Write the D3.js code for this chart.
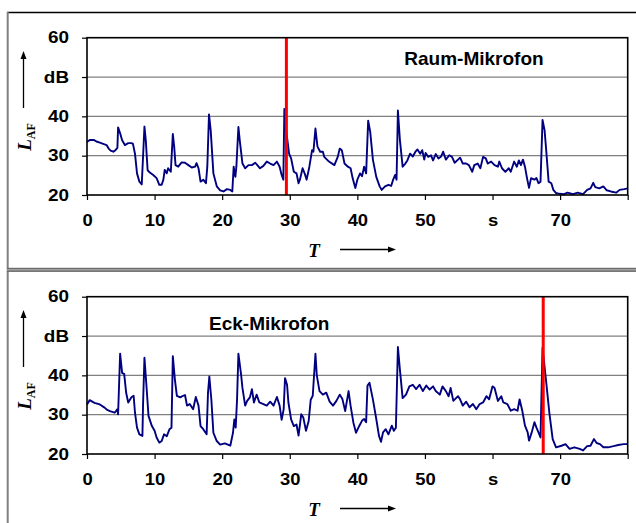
<!DOCTYPE html>
<html>
<head>
<meta charset="utf-8">
<script src="https://cdn.jsdelivr.net/npm/d3@7"></script>
<style>
  html, body { margin: 0; padding: 0; background: #fff; }
  svg { display: block; }
  .tick-label { font-family: "Liberation Sans", Arial, sans-serif; font-weight: bold; font-size: 16px; fill: #000; }
  .title { font-family: "Liberation Sans", Arial, sans-serif; font-weight: bold; font-size: 19px; fill: #000; }
  .qty { font-family: "Liberation Serif", "Times New Roman", serif; font-weight: bold; fill: #000; }
</style>
</head>
<body>
<svg id="chart" width="636" height="523"></svg>
<script>
// Time axis (s) and level axis (dB)
const xTicks = [0, 10, 20, 30, 40, 50, 60, 70, 80];
const xTickLabels = ["0", "10", "20", "30", "40", "50", "s", "70", ""];
const yTicks = [20, 30, 40, 50, 60];
const yTickLabels = ["20", "30", "40", "dB", "60"];

// Raum-Mikrofon: A-weighted, fast level L_AF over time
const raumT = [0,0.4,1.0,1.4,1.9,2.4,2.9,3.2,3.5,3.9,4.2,4.5,4.6,4.9,5.2,5.6,6.1,6.6,6.8,7.1,7.4,7.75,8.1,8.3,8.5,8.7,8.97,9.3,9.8,10.3,10.7,11.05,11.3,11.5,11.8,12.0,12.4,12.7,12.9,13.1,13.5,14.0,14.5,15.0,15.5,16.0,16.2,16.5,16.8,17.2,17.6,17.8,18.05,18.3,18.7,19.2,19.7,20.2,20.7,21.2,21.5,21.7,21.95,22.1,22.4,22.6,23.0,23.4,23.9,24.4,24.9,25.2,25.6,26.1,26.6,27.1,27.6,28.1,28.5,28.8,29.05,29.2,29.5,29.9,30.2,30.6,31.0,31.3,31.5,31.9,32.2,32.5,32.9,33.3,33.5,33.8,34.1,34.5,34.9,35.1,35.8,36.6,37.1,37.4,37.7,38.1,38.6,39.0,39.3,39.7,40.0,40.4,40.7,41.0,41.3,41.6,41.9,42.3,42.8,43.3,43.6,44.1,44.6,45.0,45.3,45.6,45.8,46.0,46.3,46.7,47.1,47.4,47.8,48.2,48.6,48.9,49.3,49.6,49.9,50.1,50.5,50.9,51.2,51.6,52.0,52.4,52.7,53.1,53.6,54.0,54.4,54.9,55.2,55.6,56.1,56.5,57.0,57.3,57.8,58.2,58.6,59.0,59.3,59.8,60.3,60.8,61.0,61.4,61.9,62.4,62.7,63.2,63.6,63.9,64.2,64.5,64.8,65.1,65.4,65.7,66.2,66.5,66.8,67.1,67.4,67.7,67.9,68.3,68.7,69.0,69.4,69.9,70.6,71.1,71.9,72.6,73.4,74.0,74.5,74.9,75.2,75.8,76.4,76.9,77.5,78.3,78.8,79.5,80.0];
const raumL = [33.5,34.0,34.0,33.6,33.3,33.0,32.7,31.8,31.3,31.0,31.4,32.0,37.2,35.7,33.9,32.7,33.2,33.2,33.0,30.5,25.5,23.4,22.7,30.0,37.4,33.9,26.3,25.7,25.1,24.3,22.6,22.6,23.9,26.4,25.5,26.8,25.9,35.5,32.3,27.6,27.2,28.3,28.2,27.6,27.0,27.2,28.1,26.8,23.4,23.9,23.0,27.2,40.5,36.5,25.5,22.2,21.2,20.9,21.5,21.3,20.9,27.2,24.6,27.2,37.3,33.9,28.0,26.8,27.6,27.6,28.2,27.6,26.8,27.4,28.5,28.0,27.6,28.5,27.2,25.1,23.9,41.9,36.0,30.5,29.3,25.9,25.5,23.0,23.9,26.8,25.5,23.9,27.2,31.4,31.0,36.9,32.3,31.0,31.0,29.7,28.5,27.6,29.7,31.8,31.4,28.0,27.2,26.8,24.3,21.8,23.9,25.5,24.8,27.2,25.5,38.9,36.1,29.0,24.6,22.2,21.3,22.2,22.6,22.3,23.9,25.1,23.9,41.5,33.9,27.2,28.0,28.8,30.5,29.8,31.0,31.6,30.5,31.4,29.0,30.7,29.7,30.1,28.8,30.4,29.3,29.8,31.0,29.0,30.1,29.7,28.2,29.0,29.5,28.0,28.0,27.6,25.9,27.6,28.0,26.8,29.7,29.3,28.0,28.5,27.6,27.2,28.5,26.8,25.9,26.8,25.9,28.5,27.2,28.8,27.6,29.0,27.2,24.3,21.8,24.3,23.9,24.3,23.0,23.4,39.1,36.5,32.3,23.4,23.0,21.3,20.5,20.3,20.2,20.6,20.2,20.6,20.2,21.3,21.7,23.1,22.0,21.7,22.2,21.2,20.9,20.6,21.3,21.5,21.7];

// Eck-Mikrofon: A-weighted, fast level L_AF over time
const eckT = [0,0.4,1.1,1.9,2.6,3.0,3.4,4.1,4.5,4.6,4.9,5.2,5.5,5.8,6.1,6.6,6.9,7.1,7.4,7.75,8.2,8.3,8.5,8.8,9.1,9.6,10.0,10.3,10.7,11.05,11.4,11.8,12.2,12.5,12.7,13.0,13.3,13.8,14.2,14.5,14.8,15.2,15.7,16.1,16.5,16.8,17.2,17.7,17.9,18.1,18.4,18.7,19.2,19.7,20.4,21.2,21.6,21.8,22.0,22.2,22.4,22.8,23.0,23.4,23.7,24.1,24.4,24.7,25.1,25.5,26.1,26.6,27.1,27.6,28.1,28.5,28.8,29.1,29.3,29.6,29.8,30.2,30.6,31.0,31.3,31.7,32.0,32.4,32.8,33.1,33.4,33.8,34.0,34.4,34.9,35.4,35.9,36.4,36.9,37.4,37.8,38.2,38.7,39.0,39.4,39.8,40.3,40.7,41.0,41.3,41.5,41.8,42.3,42.8,43.2,43.5,43.8,44.2,44.6,45.1,45.4,45.7,46.0,46.3,46.7,47.2,47.7,48.2,48.7,49.2,49.7,50.2,50.7,51.2,51.6,52.2,52.6,53.1,53.5,53.8,54.2,54.9,55.2,55.6,56.1,56.6,57.1,57.6,58.1,58.6,59.1,59.5,60.0,60.3,60.8,61.3,61.6,62.2,62.7,63.2,63.7,64.0,64.4,64.8,65.2,65.4,65.8,66.2,66.5,66.8,67.1,67.4,67.9,68.4,68.9,69.4,70.2,70.8,71.4,72.1,72.9,73.4,74.0,74.5,75.0,75.4,75.9,76.4,77.1,77.9,78.6,79.4,80.0];
const eckL = [32.6,33.7,33.0,32.6,31.8,31.2,30.9,30.5,31.4,30.1,45.5,40.6,40.4,35.5,33.1,34.5,34.8,30.5,26.7,25.0,24.6,33.0,44.5,37.3,29.7,27.1,25.9,24.2,22.9,23.3,25.0,24.5,26.3,26.7,44.9,39.0,34.8,34.4,34.8,35.0,32.3,32.7,31.4,34.5,32.3,27.1,26.3,25.0,35.5,39.7,33.8,25.4,23.3,22.4,22.7,22.1,25.4,28.8,26.7,33.8,45.5,40.2,36.8,32.3,33.5,34.4,36.5,33.1,35.1,33.1,32.7,32.3,33.3,32.3,34.5,32.3,28.7,31.4,39.3,37.6,33.1,28.8,27.1,27.5,24.7,30.1,29.3,25.9,28.4,33.8,34.8,45.5,40.0,36.0,35.1,35.6,33.3,32.3,33.5,35.1,33.9,30.9,36.0,32.3,28.1,25.4,27.2,28.5,28.9,28.1,37.4,38.1,33.9,28.9,24.6,23.1,25.5,26.3,25.0,27.2,25.9,26.7,47.2,41.4,34.2,35.1,37.2,37.6,36.5,37.6,36.0,37.4,36.4,37.2,36.0,35.1,37.2,36.0,34.7,36.8,33.5,34.7,33.9,32.3,33.3,31.9,32.7,31.4,32.7,33.1,34.7,33.9,37.2,36.8,33.5,34.7,33.1,32.7,31.0,31.4,31.0,33.9,31.0,27.2,25.5,23.4,25.5,28.1,26.7,25.5,24.2,47.0,39.0,30.6,23.8,21.7,22.1,22.5,21.3,21.7,21.3,20.9,22.0,22.1,23.8,22.8,22.5,21.7,21.7,22.0,22.3,22.5,22.5];

// Time markers (s)
const raumMarker = 29.5;
const eckMarker = 67.5;

const svg = d3.select("#chart");

// Page frame
svg.append("line").attr("x1", 7).attr("x2", 636).attr("y1", 12.5).attr("y2", 12.5)
  .attr("stroke", "#000").attr("stroke-width", 1.5);
svg.append("line").attr("x1", 7.7).attr("x2", 7.7).attr("y1", 12).attr("y2", 523)
  .attr("stroke", "#808080").attr("stroke-width", 2);
svg.append("rect").attr("x", 7).attr("y", 268).attr("width", 629).attr("height", 3.5).attr("fill", "#a0a0a0");
svg.append("line").attr("x1", 7).attr("x2", 636).attr("y1", 268.3).attr("y2", 268.3)
  .attr("stroke", "#606060").attr("stroke-width", 1);
svg.append("line").attr("x1", 7).attr("x2", 636).attr("y1", 271.2).attr("y2", 271.2)
  .attr("stroke", "#505050").attr("stroke-width", 1);

const plotLeft = 87, plotRight = 627.7, plotTop = 37.7, plotBottom = 195;

const x = d3.scaleLinear().domain([0, 80]).range([plotLeft, plotRight]);
const y = d3.scaleLinear().domain([20, 60]).range([plotBottom, plotTop]);

// widen bold sans labels slightly, as in the printed figure
function widen(sel, k) {
  sel.each(function () {
    const w = this.getComputedTextLength();
    if (w > 0) {
      d3.select(this).attr("textLength", w * k).attr("lengthAdjust", "spacingAndGlyphs");
    }
  });
}

function arrowHead(g, x0, y0, dir) {
  const pts = dir === "up"
    ? [[x0, y0], [x0 - 3, y0 + 8], [x0 + 3, y0 + 8]]
    : [[x0, y0], [x0 - 8, y0 - 3], [x0 - 8, y0 + 3]];
  g.append("path").attr("d", d3.line()(pts) + "Z").attr("fill", "#000");
}

function panel(offsetY, times, levels, marker, title, titleX, titleY, titleAnchor) {
  const g = svg.append("g").attr("transform", `translate(0,${offsetY})`);

  // horizontal grid lines
  g.append("g").selectAll("line").data([30, 40, 50]).join("line")
    .attr("x1", plotLeft).attr("x2", plotRight)
    .attr("y1", d => y(d)).attr("y2", d => y(d))
    .attr("stroke", "#808080").attr("stroke-width", 1.2);

  // level trace
  const data = times.map((t, i) => [t, levels[i]]);
  g.append("path").datum(data)
    .attr("d", d3.line().x(d => x(d[0])).y(d => y(d[1])))
    .attr("fill", "none").attr("stroke", "#000080").attr("stroke-width", 1.9)
    .attr("stroke-linejoin", "round");

  // marker line
  g.append("line").attr("x1", x(marker)).attr("x2", x(marker))
    .attr("y1", y(60)).attr("y2", y(20))
    .attr("stroke", "#ff0000").attr("stroke-width", 3);

  // plot frame
  g.append("rect").attr("x", plotLeft).attr("y", plotTop)
    .attr("width", plotRight - plotLeft).attr("height", plotBottom - plotTop)
    .attr("fill", "none").attr("stroke", "#000").attr("stroke-width", 1.6);

  // x axis
  const xAxis = d3.axisBottom(x).tickValues(xTicks)
    .tickFormat((d, i) => xTickLabels[i]).tickSize(5).tickPadding(15);
  const xa = g.append("g").attr("transform", `translate(0,${plotBottom})`).call(xAxis);
  xa.select(".domain").remove();
  xa.selectAll(".tick line").attr("stroke", "#000").attr("stroke-width", 1.2);
  xa.selectAll(".tick text").attr("class", "tick-label").attr("font-size", null).attr("font-family", null);
  widen(xa.selectAll(".tick text"), 1.15);

  // y axis
  const yAxis = d3.axisLeft(y).tickValues(yTicks)
    .tickFormat((d, i) => yTickLabels[i]).tickSize(5).tickPadding(13);
  const ya = g.append("g").attr("transform", `translate(${plotLeft},0)`).call(yAxis);
  ya.select(".domain").remove();
  ya.selectAll(".tick line").attr("stroke", "#000").attr("stroke-width", 1.2);
  ya.selectAll(".tick text").attr("class", "tick-label").attr("font-size", null).attr("font-family", null);
  widen(ya.selectAll(".tick text"), 1.18);

  // title
  g.append("text").attr("class", "title").attr("x", titleX).attr("y", titleY)
    .attr("text-anchor", titleAnchor).text(title);

  // y quantity label L_AF with upward arrow
  const yl = g.append("text").attr("class", "qty")
    .attr("transform", "translate(31,137) rotate(-90)")
    .attr("text-anchor", "middle");
  yl.append("tspan").attr("font-style", "italic").attr("font-size", 19).text("L");
  yl.append("tspan").attr("font-size", 12).attr("dy", 4).text("AF");
  g.append("line").attr("x1", 23.5).attr("x2", 23.5).attr("y1", 108).attr("y2", 58)
    .attr("stroke", "#000").attr("stroke-width", 1.3);
  arrowHead(g, 23.5, 51, "up");

  // x quantity label T with arrow
  g.append("text").attr("class", "qty").attr("x", 314).attr("y", 257)
    .attr("text-anchor", "middle").attr("font-style", "italic").attr("font-size", 19).text("T");
  g.append("line").attr("x1", 340).attr("x2", 389).attr("y1", 249.5).attr("y2", 249.5)
    .attr("stroke", "#000").attr("stroke-width", 1.3);
  arrowHead(g, 396, 249.5, "right");
}

panel(0, raumT, raumL, raumMarker, "Raum-Mikrofon", 474, 65, "middle");
panel(259, eckT, eckL, eckMarker, "Eck-Mikrofon", 209, 71, "start");
</script>
</body>
</html>
